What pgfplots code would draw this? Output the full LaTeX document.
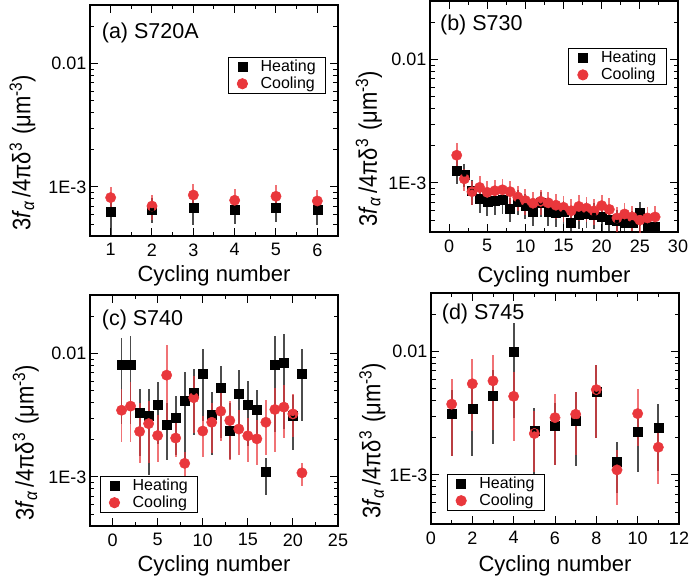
\documentclass[border=0pt]{standalone}
\usepackage{fontspec}
\setmainfont{Liberation Sans}
\usepackage{pgfplots}
\usepackage{pgfplotstable}
\pgfplotsset{compat=1.18}
\definecolor{cred}{RGB}{233,55,60}

% ---------------- data ----------------
\pgfplotstableread{
x y e
1 6.3e-4 2.2e-4
2 6.6e-4 1.5e-4
3 6.8e-4 1.9e-4
4 6.5e-4 1.5e-4
5 6.75e-4 1.55e-4
6 6.5e-4 1.6e-4
}\aH
\pgfplotstableread{
x y e
1 8.2e-4 1.8e-4
2 7.0e-4 1.65e-4
3 8.6e-4 2.0e-4
4 7.8e-4 1.8e-4
5 8.4e-4 2.0e-4
6 7.7e-4 1.8e-4
}\aC
\pgfplotstableread{
x y e
1 1.26e-3 2.8e-4
2 1.17e-3 2.5e-4
3 8.6e-4 2.0e-4
4 7.4e-4 1.7e-4
5 7.1e-4 1.7e-4
6 7.2e-4 1.7e-4
7 7.3e-4 1.7e-4
8 6.2e-4 1.4e-4
9 7.1e-4 1.6e-4
10 6.6e-4 1.5e-4
11 5.85e-4 1.35e-4
12 6.9e-4 1.6e-4
13 5.85e-4 1.35e-4
14 5.7e-4 1.3e-4
15 5.8e-4 1.35e-4
16 4.8e-4 1.1e-4
17 5.5e-4 1.3e-4
18 5.65e-4 1.3e-4
19 5.55e-4 1.3e-4
20 5.3e-4 1.2e-4
21 5.0e-4 1.15e-4
22 4.9e-4 1.1e-4
23 4.8e-4 1.1e-4
24 4.8e-4 1.1e-4
25 5.75e-4 1.3e-4
26 4.4e-4 1.0e-4
27 4.4e-4 1.0e-4
}\bH
\pgfplotstableread{
x y e
1 1.68e-3 4.3e-4
2 1.08e-3 2.2e-4
3 8.5e-4 1.9e-4
4 9.2e-4 2.1e-4
5 8.4e-4 1.9e-4
6 8.65e-4 2.0e-4
7 8.8e-4 2.0e-4
8 8.5e-4 1.9e-4
9 7.7e-4 1.8e-4
10 7.2e-4 1.7e-4
11 6.85e-4 1.6e-4
12 7.1e-4 1.6e-4
13 6.9e-4 1.6e-4
14 6.6e-4 1.5e-4
15 6.35e-4 1.5e-4
16 5.95e-4 1.4e-4
17 6.45e-4 1.5e-4
18 6.25e-4 1.4e-4
19 5.95e-4 1.4e-4
20 6.55e-4 1.5e-4
21 6.1e-4 1.4e-4
22 5.2e-4 1.2e-4
23 5.6e-4 1.3e-4
24 5.3e-4 1.2e-4
25 5.0e-4 1.2e-4
26 5.2e-4 1.2e-4
27 5.3e-4 1.2e-4
}\bC
\pgfplotstableread{
x y ep em
1 8.1e-3 5.4e-3 5.4e-3
2 8.1e-3 5.9e-3 5.4e-3
3 3.32e-3 1.83e-3 1.83e-3
4 3.15e-3 2.0e-3 2.12e-3
5 3.86e-3 1.99e-3 2.0e-3
6 2.67e-3 1.3e-3 1.3e-3
7 3.03e-3 1.52e-3 1.52e-3
8 4.13e-3 2.93e-3 2.93e-3
9 4.84e-3 2.66e-3 2.64e-3
10 6.85e-3 4.0e-3 4.0e-3
11 3.21e-3 1.7e-3 1.7e-3
12 5.26e-3 2.74e-3 3.2e-3
13 2.39e-3 1.6e-3 1.0e-3
14 4.75e-3 2.68e-3 2.48e-3
15 3.88e-3 2.16e-3 2.08e-3
16 3.53e-3 1.57e-3 1.63e-3
17 1.11e-3 3.1e-4 4.0e-4
18 8.1e-3 5.8e-3 5.8e-3
19 8.44e-3 6.0e-3 6.0e-3
20 3.15e-3 1.5e-3 1.5e-3
21 6.85e-3 4.0e-3 4.0e-3
}\cH
\pgfplotstableread{
x y ep em
1 3.48e-3 1.67e-3 1.54e-3
2 3.76e-3 2.09e-3 1.82e-3
3 2.34e-3 1.66e-3 1.05e-3
4 2.71e-3 1.39e-3 1.41e-3
5 2.17e-3 1.03e-3 8.4e-4
6 6.71e-3 4.99e-3 4.31e-3
7 2.07e-3 9.3e-4 6.1e-4
8 1.29e-3 3.1e-4 3.0e-4
9 4.4e-3 2.23e-3 2.13e-3
10 2.36e-3 7.4e-4 9.0e-4
11 2.78e-3 1.22e-3 1.22e-3
12 3.42e-3 1.73e-3 1.45e-3
13 2.87e-3 1.23e-3 1.5e-3
14 2.45e-3 1.08e-3 9.5e-4
15 2.16e-3 8.4e-4 8.3e-4
16 2.04e-3 8.6e-4 7.9e-4
17 2.78e-3 1.42e-3 1.28e-3
18 3.53e-3 1.77e-3 1.93e-3
19 3.69e-3 1.91e-3 1.62e-3
20 3.25e-3 1.45e-3 1.15e-3
21 1.08e-3 2.2e-4 2.4e-4
}\cC
\pgfplotstableread{
x y ep em
1 3.15e-3 1.75e-3 1.72e-3
2 3.42e-3 2.0e-3 2.0e-3
3 4.4e-3 2.67e-3 2.61e-3
4 1.0e-2 7.1e-3 7.1e-3
5 2.27e-3 1.26e-3 1.27e-3
6 2.53e-3 1.31e-3 1.32e-3
7 2.74e-3 1.95e-3 1.56e-3
8 4.75e-3 3.12e-3 2.75e-3
9 1.28e-3 5.7e-4 5.7e-4
10 2.23e-3 1.17e-3 1.17e-3
11 2.42e-3 1.34e-3 1.34e-3
}\dH
\pgfplotstableread{
x y ep em
1 3.76e-3 2.28e-3 2.33e-3
2 5.5e-3 3.2e-3 3.23e-3
3 5.81e-3 3.58e-3 3.51e-3
4 4.35e-3 2.5e-3 2.47e-3
5 2.17e-3 1.15e-3 1.11e-3
6 2.92e-3 1.63e-3 1.71e-3
7 3.11e-3 1.64e-3 1.65e-3
8 4.93e-3 2.94e-3 2.93e-3
9 1.1e-3 5.0e-4 5.26e-4
10 3.15e-3 1.85e-3 1.44e-3
11 1.68e-3 8.5e-4 8.4e-4
}\dC

\newcommand{\ttl}{\fontsize{21.5}{22}\selectfont}
\newcommand{\tkx}{\fontsize{18}{19}\selectfont}
\newcommand{\tky}{\fontsize{18}{19}\selectfont}
\newcommand{\lbl}{\fontsize{22}{22}\selectfont}
\newcommand{\ylbl}{\fontsize{22}{22}\selectfont}
\newcommand{\lgd}{\fontsize{16}{16}\selectfont}
\newcommand{\ylab}{3\textit{f}\textsubscript{\textit{α}}\hspace{3pt}/4πδ\textsuperscript{3}\hspace{2pt} (μm\textsuperscript{-3})}
\newcommand{\legH}{\hspace{12pt}Heating\hspace{-12pt}}
\newcommand{\legC}{\hspace{12pt}Cooling\hspace{-12pt}}

\begin{document}
\begin{tikzpicture}
\path[use as bounding box] (0,0) rectangle (689pt,579pt);

% (a)
\begin{axis}[at={(90pt,343pt)}, anchor=south west,
  ymode=log, scale only axis, width=248pt, height=231pt,
  ymin=4e-4, ymax=3e-2,
  ytick={1e-3,1e-2}, yticklabels={1E-3,0.01},
  minor ytick={4e-4,5e-4,6e-4,7e-4,8e-4,9e-4,2e-3,3e-3,4e-3,5e-3,6e-3,7e-3,8e-3,9e-3,2e-2,3e-2},
  xmin=0.5, xmax=6.5, xtick={1,2,3,4,5,6}, minor x tick num=1,
  axis line style={line width=1.3pt}, tick style={line width=1pt, black},
  major tick length=8pt, minor tick length=4.5pt, tick align=inside,
  /pgf/number format/assume math mode=true,
  xticklabel style={font=\tkx, yshift=-4pt}, yticklabel style={font=\tky},
  xlabel={Cycling number}, ylabel={\ylab},
  xlabel style={font=\lbl, anchor=base, at={(axis description cs:0.5,-0.198)}},
  ylabel style={font=\ylbl, anchor=center, yscale=1.15, at={(axis description cs:-0.272,0.361)}},
  legend cell align=left,
  legend image code/.code={\draw[#1] plot coordinates {(0pt,0pt)};},
  legend style={font=\lgd, draw=black, line width=0.7pt, inner xsep=9pt, inner ysep=2pt, row sep=2pt,
    nodes={inner sep=1pt, font=\lgd},
    at={(axis description cs:0.952,0.776)}, anchor=north east}]
\addplot[draw=none, mark=square*, mark size=4.5pt, black, mark options={draw=black, fill=black}] table[x=x,y=y] {\aH};
\addplot[draw=none, mark=*, mark size=5.2pt, cred, mark options={draw=cred, fill=cred}] table[x=x,y=y] {\aC};
\addplot[forget plot, only marks, mark=none, black, error bars/.cd, y dir=both, y explicit, error mark=none, error bar style={line width=1.8pt, black, opacity=0.7}] table[x=x,y=y,y error=e] {\aH};
\addplot[forget plot, only marks, mark=none, cred, error bars/.cd, y dir=both, y explicit, error mark=none, error bar style={line width=1.8pt, cred, opacity=0.7}] table[x=x,y=y,y error=e] {\aC};
\legend{\legH,\legC}
\node[anchor=west, inner sep=0pt, font=\ttl] at (axis description cs:0.047,0.879) {(a) S720A};
\end{axis}

% (b)
\begin{axis}[at={(430pt,347pt)}, anchor=south west,
  ymode=log, scale only axis, width=248pt, height=231pt,
  ymin=4e-4, ymax=3e-2,
  ytick={1e-3,1e-2}, yticklabels={1E-3,0.01},
  minor ytick={4e-4,5e-4,6e-4,7e-4,8e-4,9e-4,2e-3,3e-3,4e-3,5e-3,6e-3,7e-3,8e-3,9e-3,2e-2,3e-2},
  xmin=-2.5, xmax=30, xtick={0,5,...,30}, minor x tick num=1,
  axis line style={line width=1.3pt}, tick style={line width=1pt, black},
  major tick length=8pt, minor tick length=4.5pt, tick align=inside,
  /pgf/number format/assume math mode=true,
  xticklabel style={font=\tkx, yshift=-4pt}, yticklabel style={font=\tky},
  xlabel={Cycling number}, ylabel={\ylab},
  xlabel style={font=\lbl, anchor=base, at={(axis description cs:0.5,-0.219)}},
  ylabel style={font=\ylbl, anchor=center, yscale=1.15, at={(axis description cs:-0.246,0.361)}},
  legend cell align=left,
  legend image code/.code={\draw[#1] plot coordinates {(0pt,0pt)};},
  legend style={font=\lgd, draw=black, line width=0.7pt, inner xsep=9pt, inner ysep=2pt, row sep=2pt,
    nodes={inner sep=1pt, font=\lgd},
    at={(axis description cs:0.954,0.797)}, anchor=north east}]
\addplot[draw=none, mark=square*, mark size=4.5pt, black, mark options={draw=black, fill=black}] table[x=x,y=y] {\bH};
\addplot[draw=none, mark=*, mark size=5.2pt, cred, mark options={draw=cred, fill=cred}] table[x=x,y=y] {\bC};
\addplot[forget plot, only marks, mark=none, black, error bars/.cd, y dir=both, y explicit, error mark=none, error bar style={line width=1.8pt, black, opacity=0.7}] table[x=x,y=y,y error=e] {\bH};
\addplot[forget plot, only marks, mark=none, cred, error bars/.cd, y dir=both, y explicit, error mark=none, error bar style={line width=1.8pt, cred, opacity=0.7}] table[x=x,y=y,y error=e] {\bC};
\legend{\legH,\legC}
\node[anchor=west, inner sep=0pt, font=\ttl] at (axis description cs:0.04,0.896) {(b) S730};
\end{axis}

% (c)
\begin{axis}[at={(90pt,53pt)}, anchor=south west,
  ymode=log, scale only axis, width=248pt, height=231pt,
  ymin=4e-4, ymax=3e-2,
  ytick={1e-3,1e-2}, yticklabels={1E-3,0.01},
  minor ytick={4e-4,5e-4,6e-4,7e-4,8e-4,9e-4,2e-3,3e-3,4e-3,5e-3,6e-3,7e-3,8e-3,9e-3,2e-2,3e-2},
  xmin=-2.5, xmax=25, xtick={0,5,...,25}, minor x tick num=1,
  axis line style={line width=1.3pt}, tick style={line width=1pt, black},
  major tick length=8pt, minor tick length=4.5pt, tick align=inside,
  /pgf/number format/assume math mode=true,
  xticklabel style={font=\tkx, yshift=-4pt}, yticklabel style={font=\tky},
  xlabel={Cycling number}, ylabel={\ylab},
  xlabel style={font=\lbl, anchor=base, at={(axis description cs:0.5,-0.198)}},
  ylabel style={font=\ylbl, anchor=center, yscale=1.15, at={(axis description cs:-0.259,0.361)}},
  legend cell align=left,
  legend image code/.code={\draw[#1] plot coordinates {(0pt,0pt)};},
  legend style={font=\lgd, draw=black, line width=0.7pt, inner xsep=9pt, inner ysep=2pt, row sep=2pt,
    nodes={inner sep=1pt, font=\lgd},
    at={(axis description cs:0.04,0.058)}, anchor=south west}]
\addplot[draw=none, mark=square*, mark size=4.5pt, black, mark options={draw=black, fill=black}] table[x=x,y=y] {\cH};
\addplot[draw=none, mark=*, mark size=5.2pt, cred, mark options={draw=cred, fill=cred}] table[x=x,y=y] {\cC};
\addplot[forget plot, only marks, mark=none, black, error bars/.cd, y dir=both, y explicit, error mark=none, error bar style={line width=1.8pt, black, opacity=0.7}] table[x=x,y=y,y error plus=ep,y error minus=em] {\cH};
\addplot[forget plot, only marks, mark=none, cred, error bars/.cd, y dir=both, y explicit, error mark=none, error bar style={line width=1.8pt, cred, opacity=0.7}] table[x=x,y=y,y error plus=ep,y error minus=em] {\cC};
\legend{\legH,\legC}
\node[anchor=west, inner sep=0pt, font=\ttl] at (axis description cs:0.047,0.89) {(c) S740};
\end{axis}

% (d)
\begin{axis}[at={(431pt,55pt)}, anchor=south west,
  ymode=log, scale only axis, width=248pt, height=231pt,
  ymin=4e-4, ymax=3e-2,
  ytick={1e-3,1e-2}, yticklabels={1E-3,0.01},
  minor ytick={4e-4,5e-4,6e-4,7e-4,8e-4,9e-4,2e-3,3e-3,4e-3,5e-3,6e-3,7e-3,8e-3,9e-3,2e-2,3e-2},
  xmin=0, xmax=12, xtick={0,2,...,12}, minor x tick num=1,
  axis line style={line width=1.3pt}, tick style={line width=1pt, black},
  major tick length=8pt, minor tick length=4.5pt, tick align=inside,
  /pgf/number format/assume math mode=true,
  xticklabel style={font=\tkx, yshift=-4pt}, yticklabel style={font=\tky},
  xlabel={Cycling number}, ylabel={\ylab},
  xlabel style={font=\lbl, anchor=base, at={(axis description cs:0.5,-0.206)}},
  ylabel style={font=\ylbl, anchor=center, yscale=1.15, at={(axis description cs:-0.236,0.361)}},
  legend cell align=left,
  legend image code/.code={\draw[#1] plot coordinates {(0pt,0pt)};},
  legend style={font=\lgd, draw=black, line width=0.7pt, inner xsep=9pt, inner ysep=2pt, row sep=2pt,
    nodes={inner sep=1pt, font=\lgd},
    at={(axis description cs:0.063,0.058)}, anchor=south west}]
\addplot[draw=none, mark=square*, mark size=4.5pt, black, mark options={draw=black, fill=black}] table[x=x,y=y] {\dH};
\addplot[draw=none, mark=*, mark size=5.2pt, cred, mark options={draw=cred, fill=cred}] table[x=x,y=y] {\dC};
\addplot[forget plot, only marks, mark=none, black, error bars/.cd, y dir=both, y explicit, error mark=none, error bar style={line width=1.8pt, black, opacity=0.7}] table[x=x,y=y,y error plus=ep,y error minus=em] {\dH};
\addplot[forget plot, only marks, mark=none, cred, error bars/.cd, y dir=both, y explicit, error mark=none, error bar style={line width=1.8pt, cred, opacity=0.7}] table[x=x,y=y,y error plus=ep,y error minus=em] {\dC};
\legend{\legH,\legC}
\node[anchor=west, inner sep=0pt, font=\ttl] at (axis description cs:0.043,0.91) {(d) S745};
\end{axis}
\end{tikzpicture}
\end{document}
